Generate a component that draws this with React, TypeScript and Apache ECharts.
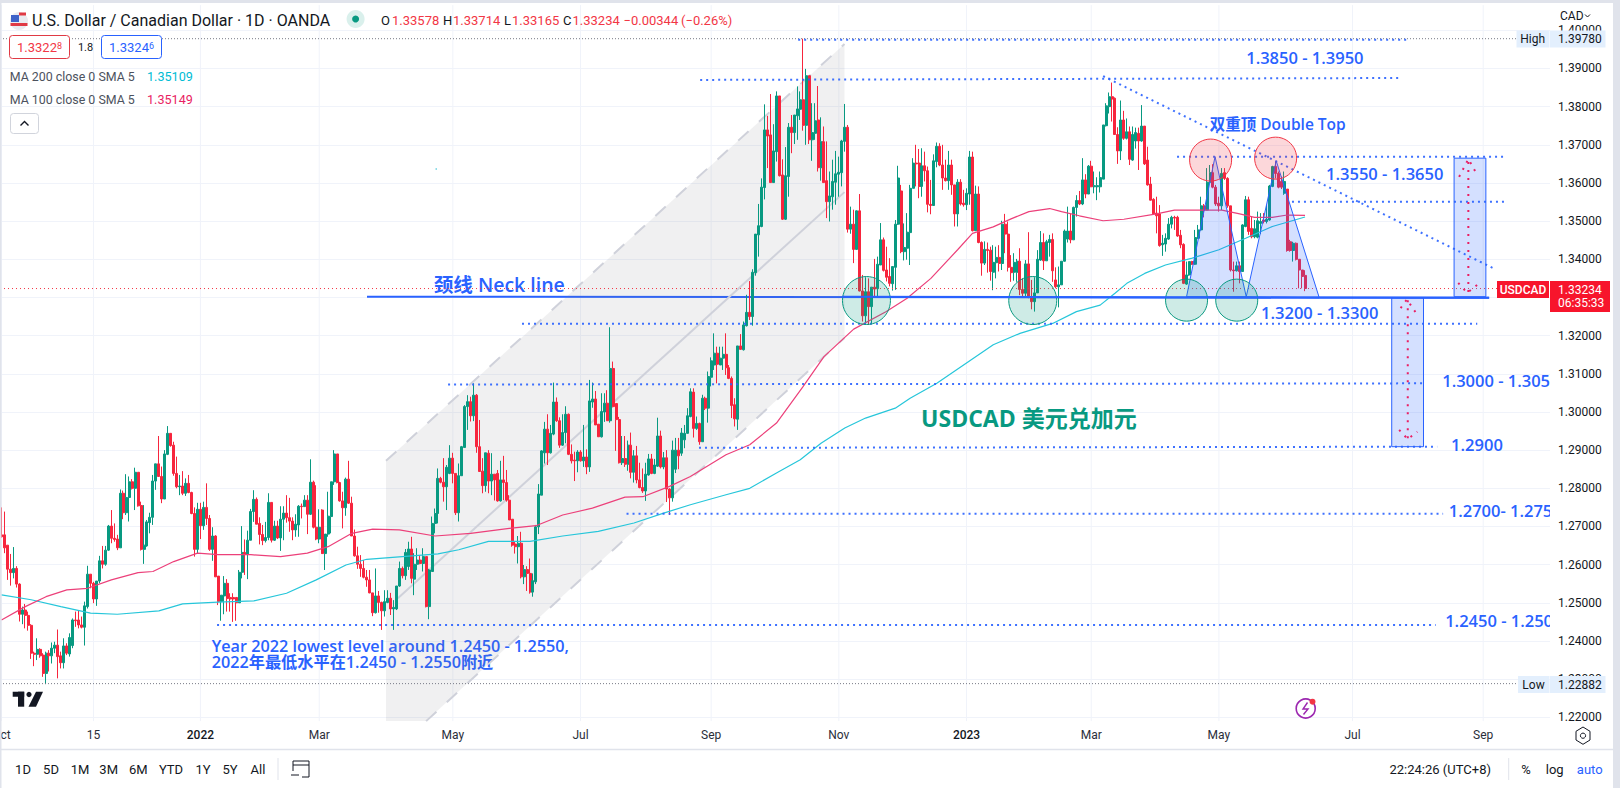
import React, { useEffect, useRef } from "react";
import * as echarts from "echarts";

// Each candle is [open, high, low, close].
const candlesOct2021 = [
[1.2678,1.2750,1.2671,1.2673],[1.2678,1.2739,1.2630,1.2644],[1.2651,1.2651,1.2560,1.2588],[1.2588,1.2628,1.2545,1.2579],[1.2579,1.2646,1.2564,1.2590],
[1.2590,1.2596,1.2540,1.2549],[1.2549,1.2551,1.2451,1.2470],[1.2470,1.2490,1.2444,1.2481],[1.2481,1.2497,1.2433,1.2467],[1.2467,1.2477,1.2427,1.2441],
[1.2441,1.2444,1.2353,1.2368],[1.2368,1.2372,1.2334,1.2365],[1.2365,1.2407,1.2350,1.2378],[1.2378,1.2381,1.2356,1.2361],[1.2363,1.2368,1.2306,1.2315],
[1.2315,1.2372,1.2287,1.2368],[1.2368,1.2376,1.2320,1.2361],[1.2361,1.2396,1.2341,1.2381],[1.2381,1.2398,1.2368,1.2389],[1.2389,1.2430,1.2302,1.2359],
[1.2361,1.2372,1.2328,1.2343],[1.2343,1.2407,1.2328,1.2387],[1.2387,1.2394,1.2363,1.2368],[1.2366,1.2420,1.2359,1.2409],[1.2388,1.2459,1.2381,1.2455],
[1.2455,1.2477,1.2437,1.2453],[1.2455,1.2481,1.2433,1.2442],[1.2442,1.2464,1.2433,1.2436],[1.2436,1.2503,1.2388,1.2492],[1.2490,1.2597,1.2485,1.2575],
[1.2575,1.2575,1.2538,1.2551],[1.2551,1.2555,1.2499,1.2510],[1.2510,1.2557,1.2492,1.2557],[1.2557,1.2623,1.2551,1.2610],[1.2610,1.2649,1.2590,1.2601],
[1.2601,1.2649,1.2597,1.2638],[1.2638,1.2704,1.2636,1.2701],[1.2701,1.2743,1.2656,1.2669],[1.2669,1.2708,1.2660,1.2666],[1.2667,1.2678,1.2638,1.2644],
[1.2644,1.2797,1.2644,1.2787],[1.2787,1.2794,1.2719,1.2736],[1.2736,1.2837,1.2730,1.2776],[1.2776,1.2831,1.2713,1.2817],[1.2817,1.2824,1.2797,1.2800],
[1.2800,1.2854,1.2743,1.2842],[1.2842,1.2842,1.2752,1.2754],[1.2755,1.2765,1.2637,1.2640],[1.2640,1.2756,1.2602,1.2651],[1.2649,1.2717,1.2647,1.2712],
[1.2710,1.2736,1.2682,1.2724],[1.2724,1.2835,1.2704,1.2819],[1.2819,1.2864,1.2796,1.2864],[1.2864,1.2937,1.2831,1.2831],[1.2831,1.2857,1.2761,1.2772],
];
const candlesDec2021 = [
[1.2772,1.2900,1.2772,1.2890],[1.2889,1.2963,1.2887,1.2944],[1.2944,1.2944,1.2909,1.2912],[1.2913,1.2922,1.2833,1.2839],[1.2839,1.2883,1.2800,1.2804],
[1.2804,1.2835,1.2782,1.2806],[1.2806,1.2845,1.2782,1.2787],[1.2787,1.2826,1.2780,1.2813],[1.2813,1.2835,1.2787,1.2789],[1.2789,1.2791,1.2732,1.2734],
[1.2734,1.2750,1.2621,1.2640],[1.2640,1.2762,1.2629,1.2745],[1.2745,1.2762,1.2667,1.2702],[1.2702,1.2765,1.2691,1.2750],[1.2750,1.2813,1.2704,1.2721],
[1.2721,1.2730,1.2636,1.2640],[1.2640,1.2698,1.2610,1.2675],[1.2675,1.2677,1.2568,1.2568],[1.2570,1.2570,1.2494,1.2503],[1.2503,1.2520,1.2453,1.2520],
[1.2518,1.2570,1.2470,1.2551],[1.2551,1.2562,1.2477,1.2511],[1.2514,1.2525,1.2477,1.2510],[1.2514,1.2525,1.2450,1.2510],[1.2514,1.2514,1.2453,1.2500],
[1.2500,1.2586,1.2500,1.2580],[1.2580,1.2701,1.2564,1.2632],[1.2632,1.2666,1.2573,1.2628],[1.2628,1.2689,1.2562,1.2664],[1.2664,1.2746,1.2664,1.2739],
[1.2739,1.2795,1.2712,1.2771],[1.2771,1.2776,1.2706,1.2706],[1.2708,1.2724,1.2653,1.2679],[1.2679,1.2704,1.2651,1.2663],[1.2663,1.2712,1.2658,1.2671],
[1.2671,1.2787,1.2664,1.2763],[1.2763,1.2763,1.2658,1.2664],[1.2664,1.2715,1.2662,1.2701],[1.2701,1.2715,1.2667,1.2670],[1.2670,1.2753,1.2636,1.2719],
[1.2719,1.2753,1.2664,1.2735],[1.2735,1.2782,1.2710,1.2723],[1.2723,1.2775,1.2686,1.2714],[1.2714,1.2724,1.2664,1.2691],[1.2691,1.2732,1.2673,1.2706],
[1.2704,1.2756,1.2673,1.2753],[1.2753,1.2760,1.2721,1.2752],[1.2752,1.2782,1.2752,1.2769],[1.2769,1.2782,1.2680,1.2732],[1.2732,1.2876,1.2730,1.2816],
[1.2816,1.2820,1.2695,1.2698],[1.2698,1.2808,1.2664,1.2667],[1.2667,1.2745,1.2656,1.2698],[1.2743,1.2745,1.2628,1.2629],[1.2629,1.2680,1.2586,1.2680],
[1.2680,1.2791,1.2673,1.2727],
];
const candlesMar2022 = [
[1.2726,1.2817,1.2682,1.2817],[1.2817,1.2900,1.2809,1.2890],[1.2890,1.2890,1.2813,1.2815],[1.2815,1.2817,1.2765,1.2767],[1.2767,1.2791,1.2695,1.2749],
[1.2749,1.2828,1.2728,1.2824],[1.2824,1.2872,1.2759,1.2761],[1.2761,1.2778,1.2675,1.2675],[1.2675,1.2692,1.2621,1.2623],[1.2623,1.2647,1.2589,1.2601],
[1.2601,1.2625,1.2568,1.2590],[1.2590,1.2612,1.2564,1.2567],[1.2567,1.2586,1.2542,1.2560],[1.2560,1.2586,1.2525,1.2526],[1.2526,1.2526,1.2465,1.2474],
[1.2474,1.2590,1.2472,1.2518],[1.2518,1.2531,1.2474,1.2501],[1.2501,1.2503,1.2429,1.2479],[1.2479,1.2533,1.2464,1.2503],[1.2501,1.2533,1.2499,1.2512],
[1.2512,1.2526,1.2468,1.2484],[1.2484,1.2507,1.2429,1.2488],[1.2484,1.2544,1.2481,1.2544],[1.2544,1.2608,1.2542,1.2590],[1.2590,1.2595,1.2564,1.2571],
[1.2571,1.2641,1.2560,1.2632],[1.2595,1.2660,1.2586,1.2641],[1.2641,1.2673,1.2551,1.2564],[1.2562,1.2630,1.2520,1.2601],[1.2601,1.2643,1.2586,1.2612],
[1.2612,1.2625,1.2601,1.2603],[1.2603,1.2643,1.2582,1.2621],[1.2621,1.2621,1.2488,1.2490],[1.2490,1.2589,1.2457,1.2586],[1.2582,1.2726,1.2582,1.2708],
[1.2708,1.2747,1.2682,1.2734],[1.2734,1.2852,1.2708,1.2826],[1.2826,1.2830,1.2813,1.2816],[1.2816,1.2879,1.2765,1.2804],[1.2804,1.2861,1.2743,1.2855],
[1.2839,1.2913,1.2837,1.2879],[1.2879,1.2893,1.2813,1.2839],[1.2839,1.2839,1.2730,1.2736],[1.2736,1.2865,1.2713,1.2833],[1.2833,1.2911,1.2833,1.2909],
[1.2907,1.3018,1.2907,1.3014],[1.3014,1.3044,1.2953,1.3027],[1.3027,1.3040,1.2975,1.2990],[1.2990,1.3075,1.2976,1.3044],[1.3044,1.3047,1.2893,1.2909],
[1.2909,1.2979,1.2844,1.2844],[1.2845,1.2879,1.2787,1.2807],[1.2807,1.2893,1.2791,1.2893],[1.2892,1.2900,1.2787,1.2819],[1.2819,1.2892,1.2782,1.2837],
[1.2837,1.2837,1.2768,1.2822],
];
const candlesJun2022 = [
[1.2839,1.2848,1.2765,1.2767],[1.2767,1.2872,1.2765,1.2822],[1.2822,1.2885,1.2769,1.2815],[1.2815,1.2848,1.2765,1.2769],[1.2769,1.2782,1.2717,1.2717],
[1.2719,1.2719,1.2647,1.2651],[1.2654,1.2660,1.2629,1.2647],[1.2647,1.2675,1.2603,1.2656],[1.2656,1.2686,1.2564,1.2568],[1.2568,1.2599,1.2549,1.2587],
[1.2587,1.2596,1.2531,1.2577],[1.2577,1.2616,1.2524,1.2528],[1.2528,1.2577,1.2516,1.2558],[1.2555,1.2704,1.2549,1.2699],[1.2699,1.2811,1.2680,1.2785],
[1.2782,1.2900,1.2782,1.2898],[1.2893,1.2974,1.2865,1.2955],[1.2955,1.2994,1.2861,1.2893],[1.2893,1.2966,1.2891,1.2944],[1.2942,1.3077,1.2939,1.3026],
[1.3026,1.3038,1.2974,1.2977],[1.2977,1.2986,1.2906,1.2913],[1.2913,1.2994,1.2911,1.2946],[1.2946,1.3015,1.2918,1.2994],[1.2994,1.2996,1.2887,1.2889],
[1.2889,1.2915,1.2865,1.2872],[1.2874,1.2896,1.2819,1.2872],[1.2872,1.2900,1.2842,1.2895],[1.2895,1.2900,1.2870,1.2872],[1.2872,1.2966,1.2856,1.2882],
[1.2882,1.2902,1.2837,1.2856],[1.2856,1.3084,1.2843,1.3029],[1.3026,1.3077,1.3011,1.3034],[1.3034,1.3055,1.2966,1.2966],[1.2968,1.2968,1.2935,1.2935],
[1.2935,1.3049,1.2933,1.3001],[1.3000,1.3049,1.2974,1.3023],[1.3023,1.3057,1.2977,1.2977],[1.2977,1.3222,1.2972,1.3114],[1.3114,1.3132,1.3012,1.3014],
[1.3022,1.3022,1.2898,1.2980],[1.2980,1.2987,1.2865,1.2867],[1.2867,1.2937,1.2861,1.2878],[1.2878,1.2937,1.2856,1.2863],[1.2863,1.2925,1.2846,1.2913],
[1.2913,1.2946,1.2826,1.2842],[1.2842,1.2900,1.2815,1.2885],[1.2885,1.2911,1.2813,1.2822],[1.2822,1.2867,1.2800,1.2802],[1.2802,1.2852,1.2788,1.2793],
[1.2793,1.2867,1.2767,1.2837],[1.2835,1.2890,1.2833,1.2877],[1.2877,1.2890,1.2837,1.2839],[1.2839,1.2877,1.2837,1.2861],[1.2858,1.2985,1.2856,1.2937],
[1.2937,1.2951,1.2852,1.2856],
];
const candlesAug2022 = [
[1.2856,1.2895,1.2850,1.2880],[1.2880,1.2900,1.2764,1.2798],[1.2798,1.2800,1.2730,1.2775],[1.2775,1.2925,1.2765,1.2900],[1.2850,1.2932,1.2840,1.2900],
[1.2900,1.2932,1.2850,1.2885],[1.2892,1.2958,1.2885,1.2945],[1.2927,1.2966,1.2905,1.2944],[1.2944,1.3010,1.2943,1.2990],[1.2988,1.3062,1.2986,1.3053],
[1.3052,1.3062,1.2933,1.2957],[1.2957,1.2988,1.2953,1.2970],[1.2970,1.2972,1.2914,1.2922],[1.2922,1.3045,1.2922,1.3036],[1.3036,1.3040,1.3005,1.3010],
[1.3010,1.3106,1.2972,1.3093],[1.3091,1.3143,1.3067,1.3134],[1.3123,1.3206,1.3110,1.3154],[1.3154,1.3171,1.3075,1.3125],[1.3123,1.3171,1.3123,1.3141],
[1.3141,1.3171,1.3110,1.3151],[1.3151,1.3206,1.3097,1.3116],[1.3116,1.3123,1.3086,1.3088],[1.3088,1.3093,1.2984,1.3017],[1.3019,1.3036,1.2962,1.2982],
[1.2981,1.3173,1.2953,1.3173],[1.3173,1.3204,1.3163,1.3164],[1.3163,1.3237,1.3161,1.3228],[1.3226,1.3307,1.3224,1.3261],[1.3261,1.3343,1.3241,1.3250],
[1.3250,1.3374,1.3226,1.3366],[1.3365,1.3466,1.3357,1.3466],[1.3464,1.3545,1.3407,1.3488],[1.3486,1.3612,1.3484,1.3589],[1.3588,1.3806,1.3557,1.3739],
[1.3739,1.3776,1.3639,1.3723],[1.3726,1.3833,1.3601,1.3601],[1.3601,1.3754,1.3601,1.3684],[1.3682,1.3840,1.3656,1.3828],[1.3828,1.3828,1.3617,1.3619],
[1.3621,1.3662,1.3503,1.3505],[1.3505,1.3694,1.3503,1.3619],[1.3617,1.3757,1.3564,1.3746],[1.3746,1.3778,1.3678,1.3732],[1.3732,1.3778,1.3702,1.3778],
[1.3776,1.3853,1.3713,1.3794],[1.3793,1.3840,1.3765,1.3818],[1.3818,1.3978,1.3737,1.3751],[1.3751,1.3899,1.3700,1.3881],[1.3881,1.3881,1.3702,1.3713],
[1.3713,1.3809,1.3658,1.3732],[1.3730,1.3809,1.3713,1.3763],[1.3765,1.3854,1.3630,1.3640],[1.3640,1.3772,1.3606,1.3708],[1.3708,1.3748,1.3601,1.3601],
];
const candlesNov2022 = [
[1.3606,1.3709,1.3508,1.3551],[1.3551,1.3630,1.3499,1.3566],[1.3564,1.3661,1.3530,1.3604],[1.3602,1.3684,1.3543,1.3624],[1.3623,1.3669,1.3564,1.3628],
[1.3627,1.3713,1.3591,1.3710],[1.3709,1.3807,1.3682,1.3746],[1.3746,1.3752,1.3470,1.3479],[1.3479,1.3538,1.3467,1.3492],[1.3492,1.3530,1.3390,1.3426],
[1.3426,1.3528,1.3425,1.3527],[1.3527,1.3571,1.3316,1.3317],[1.3317,1.3359,1.3237,1.3252],[1.3252,1.3353,1.3235,1.3315],[1.3315,1.3350,1.3228,1.3276],
[1.3276,1.3327,1.3233,1.3327],[1.3327,1.3401,1.3302,1.3322],[1.3323,1.3407,1.3302,1.3387],[1.3385,1.3495,1.3385,1.3451],[1.3451,1.3457,1.3368,1.3371],
[1.3372,1.3433,1.3342,1.3353],[1.3355,1.3403,1.3329,1.3337],[1.3336,1.3381,1.3318,1.3381],[1.3379,1.3503,1.3320,1.3492],[1.3492,1.3645,1.3490,1.3613],
[1.3579,1.3595,1.3416,1.3420],[1.3420,1.3494,1.3397,1.3431],[1.3429,1.3521,1.3399,1.3471],[1.3470,1.3595,1.3385,1.3586],[1.3586,1.3665,1.3586,1.3652],
[1.3652,1.3700,1.3591,1.3650],[1.3652,1.3689,1.3560,1.3591],[1.3591,1.3691,1.3564,1.3645],[1.3645,1.3682,1.3604,1.3632],[1.3632,1.3643,1.3523,1.3544],
[1.3544,1.3608,1.3518,1.3541],[1.3541,1.3675,1.3540,1.3658],[1.3656,1.3706,1.3641,1.3696],[1.3696,1.3704,1.3644,1.3647],[1.3647,1.3700,1.3582,1.3613],
[1.3613,1.3661,1.3604,1.3606],[1.3606,1.3684,1.3582,1.3647],[1.3647,1.3661,1.3569,1.3595],[1.3595,1.3595,1.3486,1.3519],[1.3519,1.3610,1.3486,1.3602],
[1.3602,1.3610,1.3541,1.3545],[1.3547,1.3582,1.3538,1.3543],[1.3543,1.3586,1.3529,1.3573],[1.3571,1.3684,1.3543,1.3668],[1.3668,1.3682,1.3473,1.3475],
[1.3475,1.3593,1.3475,1.3571],[1.3571,1.3591,1.3442,1.3444],[1.3444,1.3447,1.3357,1.3390],[1.3390,1.3447,1.3385,1.3426],[1.3426,1.3444,1.3365,1.3423],
];
const candlesJan2023 = [
[1.3424,1.3433,1.3344,1.3368],[1.3366,1.3437,1.3319,1.3392],[1.3391,1.3433,1.3350,1.3405],[1.3405,1.3437,1.3368,1.3389],[1.3389,1.3501,1.3372,1.3492],
[1.3492,1.3519,1.3416,1.3466],[1.3466,1.3499,1.3368,1.3379],[1.3379,1.3411,1.3341,1.3365],[1.3366,1.3416,1.3344,1.3392],[1.3366,1.3401,1.3341,1.3395],
[1.3395,1.3429,1.3306,1.3321],[1.3321,1.3350,1.3302,1.3311],[1.3311,1.3398,1.3302,1.3388],[1.3388,1.3471,1.3298,1.3302],[1.3302,1.3346,1.3269,1.3289],
[1.3289,1.3353,1.3263,1.3312],[1.3312,1.3424,1.3312,1.3400],[1.3398,1.3474,1.3396,1.3444],[1.3444,1.3468,1.3372,1.3396],[1.3396,1.3451,1.3396,1.3446],
[1.3444,1.3464,1.3407,1.3452],[1.3452,1.3468,1.3341,1.3370],[1.3346,1.3379,1.3324,1.3328],[1.3328,1.3381,1.3274,1.3333],[1.3333,1.3395,1.3333,1.3395],
[1.3395,1.3478,1.3394,1.3474],[1.3453,1.3538,1.3444,1.3474],[1.3474,1.3520,1.3442,1.3451],[1.3451,1.3538,1.3451,1.3536],[1.3536,1.3568,1.3512,1.3554],
[1.3554,1.3579,1.3542,1.3545],[1.3545,1.3665,1.3542,1.3608],[1.3608,1.3623,1.3560,1.3571],[1.3571,1.3647,1.3571,1.3644],[1.3644,1.3658,1.3589,1.3590],
[1.3590,1.3630,1.3573,1.3593],[1.3590,1.3615,1.3555,1.3593],[1.3590,1.3630,1.3575,1.3614],[1.3610,1.3752,1.3610,1.3752],[1.3750,1.3809,1.3748,1.3802],
[1.3800,1.3837,1.3782,1.3826],[1.3826,1.3863,1.3761,1.3820],[1.3822,1.3824,1.3726,1.3727],[1.3727,1.3746,1.3650,1.3684],[1.3684,1.3816,1.3660,1.3765],
[1.3765,1.3789,1.3713,1.3717],[1.3717,1.3769,1.3714,1.3734],[1.3734,1.3748,1.3647,1.3662],[1.3660,1.3748,1.3658,1.3727],[1.3710,1.3745,1.3690,1.3732],
[1.3730,1.3745,1.3634,1.3710],[1.3710,1.3804,1.3708,1.3749],[1.3749,1.3749,1.3647,1.3650],[1.3660,1.3695,1.3593,1.3595],[1.3597,1.3616,1.3554,1.3555],
[1.3557,1.3560,1.3516,1.3519],
];
const candlesApr2023 = [
[1.3521,1.3564,1.3468,1.3514],[1.3519,1.3542,1.3433,1.3436],[1.3438,1.3464,1.3409,1.3442],[1.3440,1.3468,1.3420,1.3455],[1.3453,1.3508,1.3451,1.3492],
[1.3492,1.3514,1.3481,1.3510],[1.3510,1.3514,1.3477,1.3508],[1.3510,1.3514,1.3459,1.3461],[1.3463,1.3477,1.3429,1.3438],[1.3439,1.3442,1.3335,1.3337],
[1.3335,1.3394,1.3333,1.3359],[1.3359,1.3394,1.3357,1.3394],[1.3394,1.3396,1.3385,1.3387],[1.3387,1.3477,1.3385,1.3457],[1.3455,1.3490,1.3453,1.3477],
[1.3477,1.3564,1.3475,1.3540],[1.3540,1.3545,1.3510,1.3529],[1.3529,1.3639,1.3528,1.3602],[1.3602,1.3647,1.3599,1.3627],[1.3627,1.3649,1.3586,1.3589],
[1.3589,1.3595,1.3540,1.3545],[1.3547,1.3564,1.3525,1.3540],[1.3540,1.3639,1.3529,1.3625],[1.3627,1.3639,1.3608,1.3612],[1.3612,1.3615,1.3535,1.3540],
[1.3540,1.3540,1.3368,1.3372],[1.3372,1.3394,1.3315,1.3370],[1.3370,1.3394,1.3368,1.3383],[1.3383,1.3394,1.3337,1.3368],[1.3368,1.3492,1.3368,1.3490],
[1.3486,1.3566,1.3484,1.3556],[1.3556,1.3564,1.3464,1.3473],[1.3481,1.3512,1.3455,1.3459],[1.3459,1.3503,1.3455,1.3480],[1.3458,1.3525,1.3455,1.3501],
[1.3494,1.3521,1.3466,1.3499],[1.3503,1.3521,1.3494,1.3499],[1.3499,1.3542,1.3494,1.3505],[1.3503,1.3595,1.3501,1.3592],[1.3591,1.3645,1.3589,1.3643],
[1.3643,1.3656,1.3612,1.3625],[1.3625,1.3630,1.3586,1.3589],[1.3604,1.3617,1.3584,1.3589],[1.3573,1.3630,1.3569,1.3604],[1.3584,1.3584,1.3420,1.3423],
[1.3446,1.3451,1.3420,1.3423],[1.3423,1.3446,1.3394,1.3442],[1.3442,1.3444,1.3397,1.3400],[1.3400,1.3400,1.3324,1.3372],[1.3372,1.3372,1.3324,1.3355],
[1.33578,1.33714,1.33165,1.33234],
];
const candles = [...candlesOct2021, ...candlesDec2021, ...candlesMar2022, ...candlesJun2022, ...candlesAug2022, ...candlesNov2022, ...candlesJan2023, ...candlesApr2023];

// [bar index, value] vertices of the moving averages.
const ma200 = [[0,1.2521],[10,1.2508],[20,1.2490],[30,1.2473],[39,1.2470],[53,1.2479],[61,1.2497],[73,1.2502],[85,1.2505],[96,1.2525],[106,1.2560],[116,1.2599],[123,1.2614],[135,1.2621],[147,1.2628],[154,1.2639],[164,1.2661],[178,1.2661],[189,1.2675],[201,1.2687],[213,1.2709],[223,1.2735],[232,1.2757],[244,1.2783],[252,1.2800],[261,1.2840],[269,1.2875],[276,1.2918],[284,1.2958],[291,1.2984],[301,1.3010],[306,1.3036],[315,1.3075],[325,1.3128],[334,1.3176],[343,1.3206],[354,1.3232],[362,1.3263],[370,1.3280],[375,1.3311],[379,1.3337],[385,1.3363],[392,1.3385],[401,1.3403],[410,1.3425],[419,1.3455],[428,1.3486],[439,1.35109]];
const ma100 = [[0,1.2455],[8,1.2490],[15,1.2516],[22,1.2534],[29,1.2538],[37,1.2560],[46,1.2579],[51,1.2582],[58,1.2608],[66,1.2630],[73,1.2626],[84,1.2626],[94,1.2621],[103,1.2630],[110,1.2647],[118,1.2682],[125,1.2693],[134,1.2691],[146,1.2675],[158,1.2682],[171,1.2695],[180,1.2702],[189,1.2730],[199,1.2748],[210,1.2777],[216,1.2778],[225,1.2805],[232,1.2831],[244,1.2888],[252,1.2914],[261,1.2971],[270,1.3067],[277,1.3145],[287,1.3217],[298,1.3263],[305,1.3298],[313,1.3350],[322,1.3425],[327,1.3468],[334,1.3485],[340,1.3506],[346,1.3525],[353,1.3533],[357,1.3525],[363,1.3514],[371,1.3501],[378,1.3505],[389,1.3519],[395,1.3529],[411,1.3529],[417,1.3519],[422,1.3510],[428,1.3510],[433,1.3516],[439,1.35149]];

const categoryCount = 522;
const timeTicks: [number, string][] = [[0,"Oct"],[31,"15"],[67,"2022"],[107,"Mar"],[152,"May"],[195,"Jul"],[239,"Sep"],[282,"Nov"],[325,"2023"],[367,"Mar"],[410,"May"],[455,"Jul"],[499,"Sep"]];
const categories = Array.from({ length: categoryCount }, (_, i) => { const t = timeTicks.find((k) => k[0] === i); return t ? t[1] : ""; });

// Drawn annotations, all in [bar index, price].
const dottedLines = [[268.3,1.3975,473.4,1.3975],[235.3,1.3870,470.4,1.3875],[371,1.3880,502.3,1.3377],[395.9,1.3669,505.7,1.3669],[434.6,1.3551,506.7,1.3551],[175.3,1.3231,497,1.3231],[150.4,1.3072,479.4,1.3075],[234.9,1.2906,483.5,1.2909],[210.5,1.2733,485.5,1.2733],[72.6,1.2442,483,1.2442]];
const neckLine = [123.1,1.3302,501,1.3299];
const channelFill = [[129.5,1.2872],[283.9,1.3964],[283.9,1.3194],[143,1.2190],[129.5,1.2190]];
const channelEdges = [[129.5,1.2872,283.9,1.3964],[143,1.2190,283.9,1.3194]];
const channelMiddle = [133.5,1.2512,283.9,1.3576];
const neckCircles = [[291.3,1.3292,24],[347.3,1.3292,24],[399.1,1.3293,21],[416,1.3293,21]];
const topCircles = [[407.2,1.3660,21],[429.1,1.3665,21]];
const triangles = [[[399.1,1.3302],[408.7,1.3669],[419.2,1.3302]],[[419.2,1.3302],[429.3,1.3658],[443.8,1.3299]]];
const targetBoxes = [[489.2,1.3665,499.9,1.3302],[468.2,1.3299,478.9,1.2909]];
const targetArrows = [
  [[494,1.3314],[494,1.3663]],[[490.9,1.3616],[494,1.3663],[497,1.3621]],[[490.6,1.3338],[493.6,1.3312],[497,1.3333]],
  [[473.6,1.3293],[473.6,1.2929]],[[470.7,1.2953],[473.6,1.2929],[476.8,1.2948]],[[471.2,1.3272],[473.3,1.3295],[477.1,1.3251]],
];
const priceLabels: [string, number, number][] = [["1.3850 - 1.3950",419.2,1.3930],["1.3550 - 1.3650",446.1,1.3624],["1.3200 - 1.3300",424.2,1.3260],["1.3000 - 1.3050",485.2,1.3082],["1.2900",488.2,1.2915],["1.2700- 1.2750",487.4,1.2741],["1.2450 - 1.2500",486.2,1.2453]];

const lastPrice = 1.33234;
const dayHigh = 1.3978;
const dayLow = 1.22882;
const paneTop = 1.4066;
const paneBottom = 1.2190;
const rangeButtons: [string, number][] = [["1D",23],["5D",51],["1M",80],["3M",108.7],["6M",138.3],["YTD",171],["1Y",203],["5Y",230],["All",258]];

const UI = "Roboto, 'Noto Sans CJK SC', sans-serif";
const ANN = "'Open Sans', 'Noto Sans CJK SC', sans-serif";
const BLUE = "#2962ff";
const GREEN = "#089981";
const RED = "#f7253d";
const INK = "#131722";
const PANEL = "#e3effd";

const lineEl = (a: number[], b: number[], style: any) => ({ type: "line", shape: { x1: a[0], y1: a[1], x2: b[0], y2: b[1] }, style, silent: true });
const textEl = (x: number, y: number, text: string, font: string, fill: string) => ({
  type: "text", x, y, silent: true,
  style: { text, font, fill, align: "left", verticalAlign: "middle", textAlign: "left", textVerticalAlign: "middle" },
});

const backLayer = (_: any, api: any) => {
  const c = (i: number, p: number) => api.coord([i, p]);
  const kids: any[] = [];
  timeTicks.forEach(([i]) => kids.push(lineEl(c(i, paneTop), c(i, paneBottom), { stroke: "#f0f3fa", lineWidth: 1 })));
  kids.push(lineEl(c(neckLine[0], neckLine[1]), c(neckLine[2], neckLine[3]), { stroke: BLUE, lineWidth: 2 }));
  kids.push(textEl(c(145.6, 0)[0], c(0, 1.3334)[1], "颈线 Neck line", `600 19.5px ${ANN}`, BLUE));
  kids.push(textEl(c(70.8, 0)[0], c(0, 1.2387)[1], "Year 2022 lowest level around 1.2450 - 1.2550,", `600 16.2px ${ANN}`, BLUE));
  kids.push(textEl(c(70.8, 0)[0], c(0, 1.2345)[1], "2022年最低水平在1.2450 - 1.2550附近", `600 16.2px ${ANN}`, BLUE));
  kids.push({ type: "polygon", silent: true, shape: { points: channelFill.map((p) => c(p[0], p[1])) }, style: { fill: "rgba(120,123,134,0.115)" } });
  channelEdges.forEach((e) => kids.push(lineEl(c(e[0], e[1]), c(e[2], e[3]), { stroke: "#cfd1da", lineWidth: 2, lineDash: [14, 14] })));
  kids.push(lineEl(c(channelMiddle[0], channelMiddle[1]), c(channelMiddle[2], channelMiddle[3]), { stroke: "#cfd1da", lineWidth: 2 }));
  return { type: "group", children: kids };
};

const frontLayer = (_: any, api: any) => {
  const c = (i: number, p: number) => api.coord([i, p]);
  const kids: any[] = [];
  const full = (p: number, stroke: string, dash: number[]) => lineEl(c(-0.5, p), c(categoryCount - 0.5, p), { stroke, lineWidth: 1, lineDash: dash });
  kids.push(full(dayHigh, "#787b86", [1, 2]));
  kids.push(full(dayLow, "#787b86", [1, 2]));
  kids.push(full(lastPrice, "#f23645", [1, 3]));
  dottedLines.forEach((l) => kids.push(lineEl(c(l[0], l[1]), c(l[2], l[3]), { stroke: BLUE, lineWidth: 2, lineDash: [2, 4], opacity: 0.9 })));
  triangles.forEach((t) => kids.push({ type: "polygon", silent: true, shape: { points: t.map((p) => c(p[0], p[1])) }, style: { fill: "rgba(41,98,255,0.2)", stroke: BLUE, lineWidth: 1 } }));
  neckCircles.forEach((k) => { const p = c(k[0], k[1]); kids.push({ type: "circle", silent: true, shape: { cx: p[0], cy: p[1], r: k[2] }, style: { fill: "rgba(8,153,129,0.2)", stroke: GREEN, lineWidth: 1 } }); });
  topCircles.forEach((k) => { const p = c(k[0], k[1]); kids.push({ type: "circle", silent: true, shape: { cx: p[0], cy: p[1], r: k[2] }, style: { fill: "rgba(242,54,69,0.2)", stroke: "#f23645", lineWidth: 1 } }); });
  targetBoxes.forEach((b) => { const a = c(b[0], b[1]); const d = c(b[2], b[3]); kids.push({ type: "rect", silent: true, shape: { x: a[0], y: a[1], width: d[0] - a[0], height: d[1] - a[1] }, style: { fill: "rgba(41,98,255,0.2)", stroke: BLUE, lineWidth: 1 } }); });
  targetArrows.forEach((a) => kids.push({ type: "polyline", silent: true, shape: { points: a.map((p) => c(p[0], p[1])) }, style: { fill: "none", stroke: "#e91e63", lineWidth: 2, lineDash: [2, 6] } }));
  kids.push(lineEl(c(neckLine[0] + 160, neckLine[1]), c(neckLine[2], neckLine[3]), { stroke: BLUE, lineWidth: 2 }));
  priceLabels.forEach(([t, i, p]) => kids.push(textEl(c(i, 0)[0], c(0, p)[1], t, `600 16.5px ${ANN}`, BLUE)));
  kids.push(textEl(c(406.9, 0)[0], c(0, 1.3755)[1], "双重顶 Double Top", `600 15.5px ${ANN}`, BLUE));
  kids.push(textEl(c(309.7, 0)[0], c(0, 1.2985)[1], "USDCAD 美元兑加元", `700 23px ${ANN}`, GREEN));
  return { type: "group", children: kids };
};

const gt = (x: number, y: number, text: string, size: number, fill: string, z = 40, align = "left", weight = "400") => ({
  type: "text", x, y, z, silent: true,
  style: { text, fill, font: `${weight} ${size}px ${UI}`, textAlign: align, textVerticalAlign: "middle", align, verticalAlign: "middle" },
});
const gr = (x: number, y: number, width: number, height: number, style: any, z = 40, r = 0) => ({ type: "rect", z, silent: true, shape: { x, y, width, height, r }, style });
const gl = (x1: number, y1: number, x2: number, y2: number, stroke: string, z = 40, lineWidth = 1) => ({ type: "line", z, silent: true, shape: { x1, y1, x2, y2 }, style: { stroke, lineWidth } });
const priced = (x: number, y: number, main: string, tip: string, fill: string) => ({
  type: "text", x, y, z: 40, silent: true,
  style: { text: `{m|${main}}{s|${tip}}`, rich: { m: { fill, font: `400 13px ${UI}` }, s: { fill, font: `400 9px ${UI}`, verticalAlign: "top" } }, textAlign: "center", textVerticalAlign: "middle", align: "center", verticalAlign: "middle" },
});

const overlay: any[] = [
  gr(1550, 0, 70, 722, { fill: "#ffffff" }, 10),
  gr(0, 0, 1620, 3, { fill: "#e0e3eb" }, 45),
  gr(0, 0, 1.5, 788, { fill: "#e0e3eb" }, 45),
  gr(1613, 0, 7, 788, { fill: "#e0e3eb" }, 45),
  { type: "circle", z: 40, silent: true, shape: { cx: 19, cy: 21, r: 9 }, style: { fill: "#e9ebf0" } },
  gr(10.5, 23, 17, 3, { fill: "#e03a45" }),
  gr(11, 15, 8, 7, { fill: "#3f63c9" }),
  gr(19, 12.5, 7, 3, { fill: "#e03a45" }),
  gt(32, 20, "U.S. Dollar / Canadian Dollar · 1D · OANDA", 16, INK),
  { type: "ellipse", z: 40, silent: true, shape: { cx: 355.6, cy: 19, rx: 9, ry: 9 }, style: { fill: "rgba(8,153,129,0.15)" } },
  { type: "circle", z: 40, silent: true, shape: { cx: 355.6, cy: 19, r: 3.5 }, style: { fill: GREEN } },
  gt(381, 20.5, "O", 13, INK), gt(392, 20.5, "1.33578", 13, "#f23645"),
  gt(443, 20.5, "H", 13, INK), gt(453, 20.5, "1.33714", 13, "#f23645"),
  gt(504, 20.5, "L", 13, INK), gt(512, 20.5, "1.33165", 13, "#f23645"),
  gt(563, 20.5, "C", 13, INK), gt(572.5, 20.5, "1.33234", 13, "#f23645"),
  gt(623.5, 20.5, "−0.00344", 13, "#f23645"), gt(681, 20.5, "(−0.26%)", 13, "#f23645"),
  gr(9.5, 35.5, 60, 23, { fill: "#ffffff", stroke: "#e03a45", lineWidth: 1 }, 40, 3),
  priced(39.5, 47.5, "1.3322", "8", "#f23645"),
  gt(85.5, 47, "1.8", 11, INK, 40, "center"),
  gr(101.5, 35.5, 60, 23, { fill: "#ffffff", stroke: BLUE, lineWidth: 1 }, 40, 3),
  priced(131.5, 47.5, "1.3324", "6", BLUE),
  gt(9.7, 76, "MA 200 close 0 SMA 5", 12.4, "#4c525e"), gt(147, 76, "1.35109", 12.6, "#00bcd4"),
  gt(9.7, 99.5, "MA 100 close 0 SMA 5", 12.4, "#4c525e"), gt(147, 99.5, "1.35149", 12.6, "#e91e63"),
  gr(10.5, 113.5, 28, 20, { fill: "#ffffff", stroke: "#d1d4dc", lineWidth: 1 }, 40, 3),
  { type: "polyline", z: 40, silent: true, shape: { points: [[20.5, 125.5], [24.5, 121.5], [28.5, 125.5]] }, style: { fill: "none", stroke: INK, lineWidth: 1.4 } },
  gr(435.5, 168, 1.5, 2, { fill: "#8fdde8" }),
  gt(1560, 15.5, "CAD", 12, INK),
  { type: "polyline", z: 40, silent: true, shape: { points: [[1585, 14.5], [1587.5, 17], [1590, 14.5]] }, style: { fill: "none", stroke: INK, lineWidth: 1 } },
  gr(1516.5, 30.5, 32.5, 17, { fill: PANEL }), gt(1532.7, 39, "High", 12, "#131722", 41, "center"),
  gr(1549.5, 30.5, 56, 17, { fill: PANEL }), gt(1558, 39, "1.39780", 12, "#131722", 41),
  gr(1518, 676, 31, 17, { fill: PANEL }), gt(1533.5, 684.5, "Low", 12, "#131722", 41, "center"),
  gr(1549.5, 676, 56, 17, { fill: PANEL }), gt(1558, 684.5, "1.22882", 12, "#131722", 41),
  gr(1497, 281, 52, 17, { fill: "#f7152c" }), gt(1523, 289.5, "USDCAD", 12, "#ffffff", 41, "center", "500"),
  gr(1550, 281, 60, 31, { fill: "#f7152c" }), gt(1558, 289.5, "1.33234", 12, "#ffffff", 41), gt(1558, 303, "06:35:33", 12, "#ffffff", 41),
  gr(12.7, 691.7, 11.5, 5, { fill: INK }), gr(18, 691.7, 6.2, 15, { fill: INK }),
  { type: "circle", z: 40, silent: true, shape: { cx: 29, cy: 694.5, r: 2.6 }, style: { fill: INK } },
  { type: "polygon", z: 40, silent: true, shape: { points: [[36, 691.7], [43, 691.7], [36, 706.7], [28.5, 706.7]] }, style: { fill: INK } },
  { type: "circle", z: 40, silent: true, shape: { cx: 1305.7, cy: 708.5, r: 9.5 }, style: { fill: "none", stroke: "#9c27b0", lineWidth: 1.6 } },
  { type: "polyline", z: 40, silent: true, shape: { points: [[1307.5, 702.5], [1303, 709], [1308, 709], [1303.5, 714.5]] }, style: { fill: "none", stroke: "#9c27b0", lineWidth: 1.4 } },
  { type: "circle", z: 41, silent: true, shape: { cx: 1312.5, cy: 701.7, r: 3 }, style: { fill: "#f23645" } },
  { type: "polygon", z: 40, silent: true, shape: { points: [[1583, 727], [1590, 731.3], [1590, 740], [1583, 744.3], [1576, 740], [1576, 731.3]] }, style: { fill: "none", stroke: INK, lineWidth: 1 } },
  { type: "circle", z: 40, silent: true, shape: { cx: 1583, cy: 735.7, r: 2.6 }, style: { fill: "none", stroke: INK, lineWidth: 1 } },
  gl(0, 749.5, 1613, 749.5, "#e0e3eb", 40, 1.5),
  ...rangeButtons.map(([t, x]) => gt(x, 769, t, 13, INK, 40, "center")),
  gl(278, 758, 278, 780, "#e0e3eb"),
  gr(293, 761, 16, 16, { fill: "none", stroke: INK, lineWidth: 1 }),
  gl(293, 765, 309, 765, INK),
  gr(292, 771, 10, 7, { fill: "#ffffff" }, 41),
  { type: "polyline", z: 42, silent: true, shape: { points: [[291, 775], [299, 775]] }, style: { fill: "none", stroke: INK, lineWidth: 1 } },
  gt(1389.5, 769, "22:24:26 (UTC+8)", 13, INK),
  gl(1508.7, 758, 1508.7, 780, "#e0e3eb"),
  gt(1526, 769, "%", 13, INK, 40, "center"),
  gt(1554.7, 769, "log", 13, INK, 40, "center"),
  gt(1589.7, 769, "auto", 13, BLUE, 40, "center"),
];

export default function App() {
  const ref = useRef<HTMLDivElement>(null);
  useEffect(() => {
    document.body.style.margin = "0";
    document.body.style.overflow = "hidden";
    const chart = echarts.init(ref.current!, undefined, { renderer: "svg" });
    chart.setOption({
      animation: false,
      tooltip: { show: false },
      grid: { left: 0, right: 70, top: 30.3, bottom: 70.7, containLabel: false, outerBoundsMode: "none" },
      xAxis: [
        {
          type: "category", data: categories, boundaryGap: true,
          axisLine: { show: false }, axisTick: { show: false }, splitLine: { show: false },
          axisLabel: { interval: (i: number) => categories[i] !== "", showMinLabel: true, hideOverlap: false, margin: 12, color: "#2a2e39", fontFamily: UI, fontSize: 12, formatter: (v: string) => (/^20/.test(v) ? `{y|${v}}` : v), rich: { y: { fontWeight: 500, color: INK, fontFamily: UI, fontSize: 12 } } },
        },
        { type: "value", min: -0.5, max: categoryCount - 0.5, show: false, splitLine: { show: false } },
      ],
      yAxis: [
        { type: "value", min: 1.22, max: 1.4, interval: 0.01, position: "right", axisLine: { show: false }, axisTick: { show: false }, axisLabel: { show: false }, splitLine: { show: true, lineStyle: { color: "#f0f3fa", width: 1 } } },
        { type: "value", min: 1.22, max: 1.4, interval: 0.01, position: "right", z: 20, axisLine: { show: false }, axisTick: { show: false }, splitLine: { show: false }, axisLabel: { margin: 8, color: INK, fontFamily: UI, fontSize: 12, formatter: (v: number) => (Math.abs(v - lastPrice) < 0.003 ? "" : v.toFixed(5)) } },
      ],
      graphic: overlay,
      series: [
        { type: "custom", name: "back", xAxisIndex: 1, yAxisIndex: 0, z: 1, silent: true, clip: false, data: [[0, 1.3]], renderItem: backLayer },
        {
          type: "candlestick", name: "USDCAD", xAxisIndex: 0, yAxisIndex: 0, z: 3, barWidth: 2.5,
          data: candles.map((k) => [k[0], k[3], k[2], k[1]]),
          itemStyle: { color: GREEN, color0: RED, borderColor: GREEN, borderColor0: RED, borderWidth: 1 },
        },
        { type: "line", name: "MA 200", xAxisIndex: 1, yAxisIndex: 0, z: 4, silent: true, showSymbol: false, data: ma200, lineStyle: { color: "#26c6da", width: 1.2 } },
        { type: "line", name: "MA 100", xAxisIndex: 1, yAxisIndex: 0, z: 4, silent: true, showSymbol: false, data: ma100, lineStyle: { color: "#ec407a", width: 1.2 } },
        { type: "custom", name: "front", xAxisIndex: 1, yAxisIndex: 0, z: 5, silent: true, clip: false, data: [[0, 1.3]], renderItem: frontLayer },
      ],
    });
    return () => chart.dispose();
  }, []);
  return <div ref={ref} style={{ display: "block", width: 1620, height: 788, background: "#ffffff" }} />;
}
